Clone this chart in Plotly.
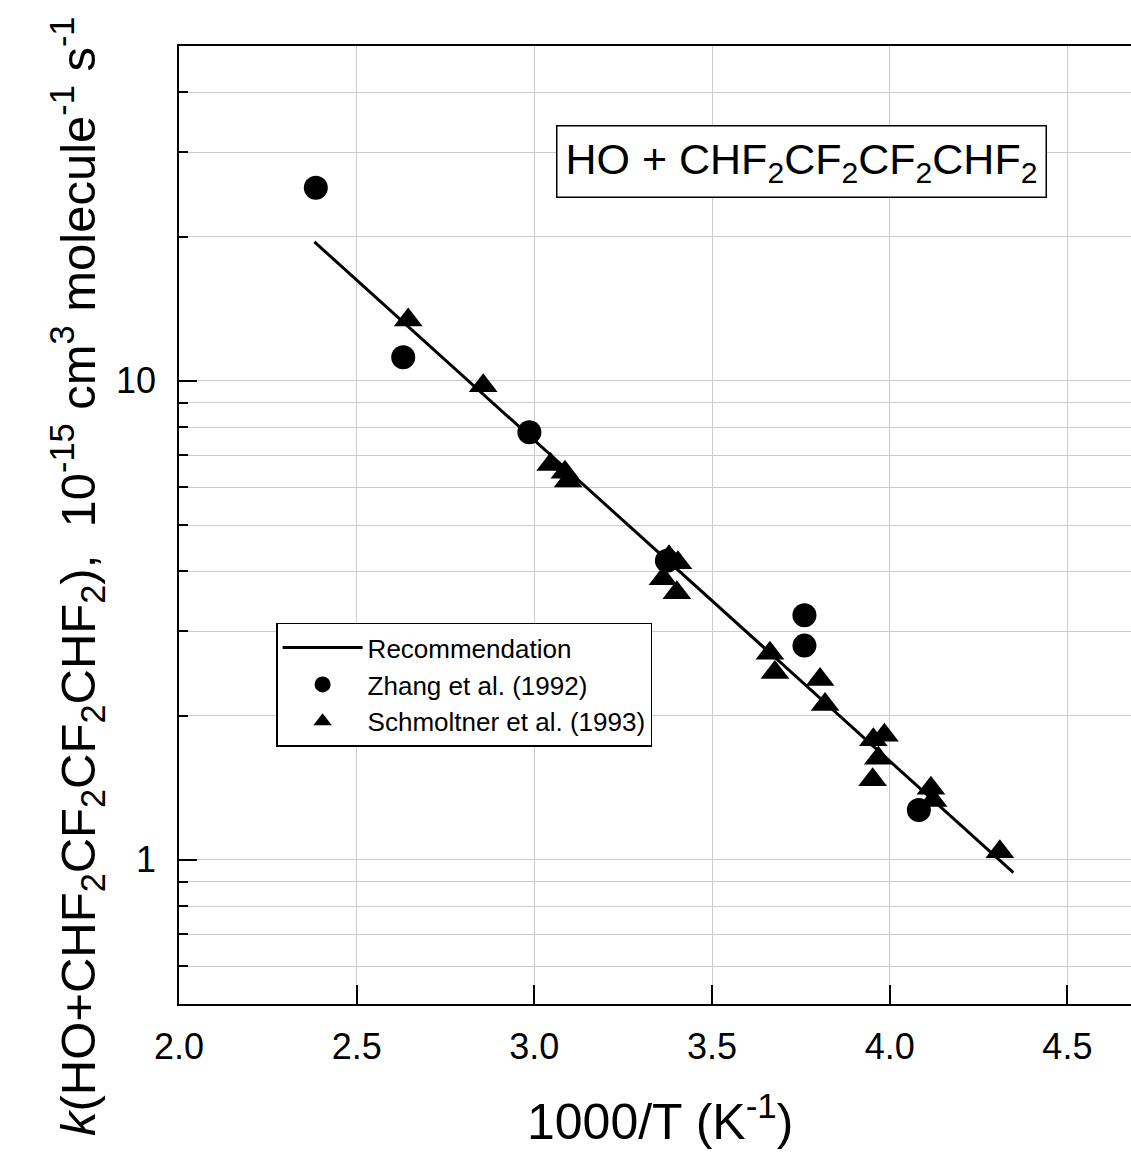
import math
import plotly.graph_objects as go

# ---- data ----
zhang_x = [2.385, 2.631, 2.986, 3.373, 3.760, 3.760, 4.082]
zhang_k = [25.3, 11.2, 7.81, 4.21, 3.24, 2.80, 1.27]

schm_x = [2.645, 2.856, 3.046, 3.086, 3.095, 3.379, 3.404, 3.362, 3.401,
          3.663, 3.677, 3.804, 3.818, 3.954, 3.985, 3.968, 3.952, 4.116,
          4.122, 4.310]
schm_k = [13.4, 9.76, 6.69, 6.44, 6.18, 4.29, 4.17, 3.86, 3.61,
          2.70, 2.46, 2.38, 2.11, 1.78, 1.82, 1.63, 1.47, 1.41,
          1.33, 1.04]

rec_x = [2.381, 4.348]
rec_k = [19.5, 0.94]

x_ticks = [2.0, 2.5, 3.0, 3.5, 4.0, 4.5]
y_major = [1, 10]
y_minor = [0.6, 0.7, 0.8, 0.9, 2, 3, 4, 5, 6, 7, 8, 9, 20, 30, 40]

FONT = "Liberation Sans, Arial, sans-serif"

fig = go.Figure()
fig.add_trace(go.Scatter(x=rec_x, y=rec_k, mode="lines", name="Recommendation",
                         line=dict(color="black", width=3)))
fig.add_trace(go.Scatter(x=zhang_x, y=zhang_k, mode="markers", name="Zhang et al. (1992)",
                         marker=dict(symbol="circle", size=24, color="black")))
fig.add_trace(go.Scatter(x=schm_x, y=schm_k, mode="markers", name="Schmoltner et al. (1993)",
                         marker=dict(symbol="triangle-up", size=25, color="black")))

fig.update_layout(
    width=1131, height=1156,
    margin=dict(l=179, r=0, t=46, b=152),
    paper_bgcolor="white", plot_bgcolor="white",
    font=dict(family=FONT, color="black"),
    showlegend=True,
    legend=dict(x=0.102, y=0.398, xanchor="left", yanchor="top",
                bgcolor="white", bordercolor="black", borderwidth=1.5,
                font=dict(size=26, family=FONT), itemwidth=80,
                tracegroupgap=0),
)

fig.update_xaxes(
    range=[2.0, 4.679], tickvals=x_ticks, ticktext=[f"{v:.1f}" for v in x_ticks],
    showgrid=True, gridcolor="#cccccc", gridwidth=1.3,
    showline=True, linecolor="black", linewidth=1.5, mirror=True,
    ticks="inside", ticklen=19, tickwidth=1.5, tickcolor="black",
    tickfont=dict(size=36, family=FONT), ticklabelstandoff=10,
    zeroline=False,
)
fig.update_yaxes(
    type="log", range=[math.log10(0.5), math.log10(50)],
    tickvals=y_major, ticktext=[str(v) for v in y_major],
    showgrid=True, gridcolor="#cccccc", gridwidth=1.3,
    showline=True, linecolor="black", linewidth=1.5,
    ticks="inside", ticklen=18, tickwidth=1.5, tickcolor="black",
    tickfont=dict(size=36, family=FONT), ticklabelstandoff=14,
    minor=dict(tickvals=y_minor, ticks="inside", ticklen=9, tickwidth=1.5,
               tickcolor="black", showgrid=True, gridcolor="#cccccc", gridwidth=1.3),
    zeroline=False,
)

# box label
fig.add_annotation(
    xref="paper", yref="paper", x=0.6544, y=0.879, xanchor="center", yanchor="middle",
    text="HO + CHF<sub>2</sub>CF<sub>2</sub>CF<sub>2</sub>CHF<sub>2</sub>",
    showarrow=False, font=dict(size=43, family=FONT, color="black"),
    bgcolor="white", bordercolor="black", borderwidth=1.5, borderpad=8,
)
# axis titles
fig.add_annotation(
    xref="paper", yref="paper", x=(77 - 179) / 952, y=1 - (577 - 46) / 958,
    xanchor="center", yanchor="middle", textangle=-90,
    text="<i>k</i>(HO+CHF<sub>2</sub>CF<sub>2</sub>CF<sub>2</sub>CHF<sub>2</sub>),  10<sup>-15</sup> cm<sup>3</sup> molecule<sup>-1</sup> s<sup>-1</sup>",
    showarrow=False, font=dict(size=49, family=FONT, color="black"),
)
fig.add_annotation(
    xref="paper", yref="paper", x=(660 - 179) / 952, y=1 - (1118 - 46) / 958,
    xanchor="center", yanchor="middle",
    text="1000/T (K<sup>-1</sup>)",
    showarrow=False, font=dict(size=50, family=FONT, color="black"),
)

fig.write_html("out.html")
